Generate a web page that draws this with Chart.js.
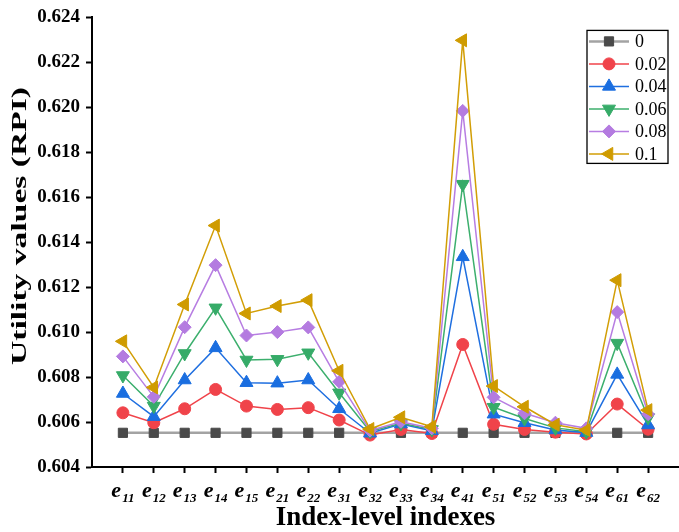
<!DOCTYPE html>
<html lang="en">
<head>
    <meta charset="UTF-8">
    <title>Utility values (RPI)</title>
    <style>
        body {
            margin: 0;
            background-color: #ffffff;
        }
        #chart {
            display: block;
        }
    </style>
</head>
<body>
    <canvas id="chart" width="679" height="532"></canvas>
    <script src="https://cdn.jsdelivr.net/npm/chart.js"></script>
    <script>
        // Index-level categories (first letter drawn normal, rest as subscript)
        const categories = ['e11', 'e12', 'e13', 'e14', 'e15', 'e21', 'e22', 'e31', 'e32',
                            'e33', 'e34', 'e41', 'e51', 'e52', 'e53', 'e54', 'e61', 'e62'];

        const seriesNames = ['0', '0.02', '0.04', '0.06', '0.08', '0.1'];

        const values0   = [0.60552, 0.60552, 0.60552, 0.60552, 0.60552, 0.60552, 0.60552, 0.60552, 0.60552,
                           0.60552, 0.60552, 0.60552, 0.60552, 0.60552, 0.60552, 0.60552, 0.60552, 0.60552];
        const values002 = [0.60641, 0.60597, 0.60659, 0.60745, 0.60671, 0.60656, 0.60664, 0.60609, 0.60542,
                           0.60567, 0.60549, 0.60945, 0.60590, 0.60567, 0.60555, 0.60547, 0.60680, 0.60568];
        const values004 = [0.60727, 0.60624, 0.60787, 0.60930, 0.60775, 0.60773, 0.60787, 0.60659, 0.60550,
                           0.60591, 0.60561, 0.61335, 0.60635, 0.60597, 0.60565, 0.60553, 0.60812, 0.60587];
        const values006 = [0.60807, 0.60671, 0.60905, 0.61108, 0.60876, 0.60879, 0.60908, 0.60730, 0.60558,
                           0.60594, 0.60567, 0.61658, 0.60666, 0.60616, 0.60574, 0.60557, 0.60951, 0.60620];
        const values008 = [0.60892, 0.60712, 0.61022, 0.61298, 0.60985, 0.61000, 0.61021, 0.60779, 0.60562,
                           0.60601, 0.60572, 0.61984, 0.60710, 0.60639, 0.60597, 0.60572, 0.61089, 0.60635];
        const values01  = [0.60959, 0.60754, 0.61123, 0.61474, 0.61083, 0.61116, 0.61142, 0.60828, 0.60569,
                           0.60621, 0.60579, 0.62298, 0.60760, 0.60668, 0.60588, 0.60564, 0.61231, 0.60653];

        const yMin = 0.604, yMax = 0.624, yStep = 0.001;

        const allValues = [values0, values002, values004, values006, values008, values01];

        // marker / colour styling per series
        const styles = [
            { line: '#a3a3a3', point: '#4a4a4a', pointStyle: 'rect',     rotation: 0,   radius: 6.5, width: 2.5 },
            { line: '#f0434a', point: '#f0434a', pointStyle: 'circle',   rotation: 0,   radius: 6,   width: 1.5 },
            { line: '#1f6fe0', point: '#1a6ee0', pointStyle: 'triangle', rotation: 0,   radius: 7.5, width: 1.5 },
            { line: '#3caf6d', point: '#36ab68', pointStyle: 'triangle', rotation: 180, radius: 7.5, width: 1.5 },
            { line: '#b77de2', point: '#b47be0', pointStyle: 'rectRot',  rotation: 0,   radius: 6.5, width: 1.5 },
            { line: '#d29e06', point: '#cf9b00', pointStyle: 'triangle', rotation: -90, radius: 7.5, width: 1.5 }
        ];

        const datasets = allValues.map((vals, s) => ({
            label: seriesNames[s],
            data: vals.map((v, i) => ({ x: i + 1, y: v })),
            borderColor: styles[s].line,
            borderWidth: styles[s].width,
            backgroundColor: styles[s].point,
            pointBackgroundColor: styles[s].point,
            pointBorderColor: styles[s].point,
            pointBorderWidth: 1,
            pointStyle: styles[s].pointStyle,
            pointRotation: styles[s].rotation,
            pointRadius: styles[s].radius,
            tension: 0,
            order: allValues.length - s,   // later series drawn on top
            clip: false
        }));

        const serif = '"Liberation Serif", "Times New Roman", serif';

        // x labels with subscripts, rotated y title and the framed legend
        const extrasPlugin = {
            id: 'extras',
            afterDraw(chart) {
                const ctx = chart.ctx;
                const area = chart.chartArea;
                const xs = chart.scales.x;
                ctx.save();
                ctx.fillStyle = '#000';
                ctx.textBaseline = 'alphabetic';

                // category labels
                categories.forEach((c, i) => {
                    const x = xs.getPixelForValue(i + 1);
                    const main = c.charAt(0), sub = c.slice(1);
                    ctx.font = 'italic bold 22px ' + serif;
                    const w1 = ctx.measureText(main).width;
                    ctx.font = 'italic bold 13px ' + serif;
                    const w2 = ctx.measureText(sub).width;
                    const left = x - (w1 + w2 + 1) / 2;
                    ctx.font = 'italic bold 22px ' + serif;
                    ctx.fillText(main, left, area.bottom + 30);
                    ctx.font = 'italic bold 13px ' + serif;
                    ctx.fillText(sub, left + w1 + 1, area.bottom + 35);
                });

                // y axis title
                const yTitle = 'Utility values (RPI)';
                ctx.font = 'bold 22px ' + serif;
                const tw = ctx.measureText(yTitle).width;
                const stretch = 278 / tw;
                ctx.translate(26, 226);
                ctx.rotate(-Math.PI / 2);
                ctx.scale(stretch, 1);
                ctx.textAlign = 'center';
                ctx.fillText(yTitle, 0, 0);
                ctx.setTransform(1, 0, 0, 1, 0, 0);

                // legend
                const bx = area.right - 92, by = area.top + 13, bw = 81, bh = 133;
                ctx.strokeStyle = '#000';
                ctx.lineWidth = 1.3;
                ctx.strokeRect(bx, by, bw, bh);
                ctx.textAlign = 'left';
                ctx.textBaseline = 'middle';
                ctx.font = '18px ' + serif;
                seriesNames.forEach((name, s) => {
                    const st = styles[s];
                    const ry = by + 11 + s * 22.5;
                    ctx.strokeStyle = st.line;
                    ctx.lineWidth = st.width;
                    ctx.beginPath();
                    ctx.moveTo(bx + 2, ry);
                    ctx.lineTo(bx + 42, ry);
                    ctx.stroke();
                    ctx.fillStyle = st.point;
                    ctx.strokeStyle = st.point;
                    ctx.lineWidth = 1;
                    Chart.helpers.drawPoint(ctx, {
                        pointStyle: st.pointStyle,
                        rotation: st.rotation,
                        radius: st.radius,
                        borderWidth: 1
                    }, bx + 22, ry);
                    ctx.fillStyle = '#000';
                    ctx.fillText(name, bx + 48, ry + 1);
                });
                ctx.restore();
            }
        };

        new Chart(document.getElementById('chart'), {
            type: 'line',
            data: { datasets: datasets },
            options: {
                responsive: false,
                animation: false,
                devicePixelRatio: 1,
                layout: { autoPadding: false, padding: { top: 17, right: 0, left: 0, bottom: 0 } },
                plugins: {
                    legend: { display: false },
                    tooltip: { enabled: false }
                },
                scales: {
                    x: {
                        type: 'linear',
                        min: 0,
                        max: categories.length + 1,
                        afterBuildTicks: scale => {
                            scale.ticks = categories.map((c, i) => ({ value: i + 1 }));
                        },
                        afterFit: scale => { scale.height = 65; },
                        ticks: { callback: () => '' },
                        grid: {
                            drawOnChartArea: false,
                            drawTicks: true,
                            tickLength: 6,
                            tickWidth: 2,
                            tickColor: '#000'
                        },
                        border: { display: true, color: '#000', width: 2 },
                        title: {
                            display: true,
                            text: 'Index-level indexes',
                            color: '#000',
                            font: { family: serif, size: 27, weight: 'bold', lineHeight: 1 },
                            padding: { top: 0, bottom: 0 }
                        }
                    },
                    y: {
                        type: 'linear',
                        min: yMin,
                        max: yMax,
                        afterFit: scale => { scale.width = 92; },
                        ticks: {
                            stepSize: yStep,
                            padding: 6,
                            color: '#000',
                            font: { family: serif, size: 19, weight: 'bold' },
                            callback: v => (Math.round(v * 1000) % 2 === 0) ? v.toFixed(3) : ''
                        },
                        grid: {
                            drawOnChartArea: false,
                            drawTicks: true,
                            tickLength: 6,
                            tickWidth: 2,
                            tickColor: '#000'
                        },
                        border: { display: true, color: '#000', width: 2 }
                    }
                }
            },
            plugins: [extrasPlugin]
        });
    </script>
</body>
</html>
